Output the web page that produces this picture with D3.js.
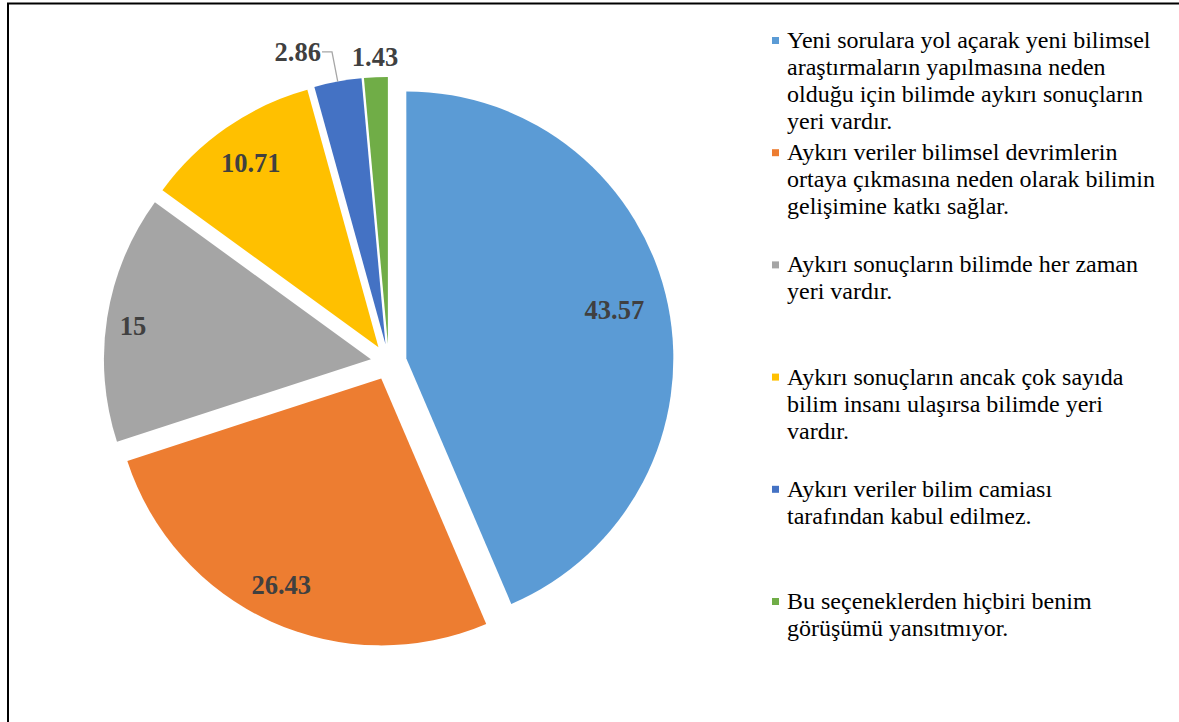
<!DOCTYPE html>
<html>
<head>
<meta charset="utf-8">
<script src="https://cdn.jsdelivr.net/npm/d3@7"></script>
<style>
  html, body { margin: 0; padding: 0; background: #fff; }
  svg { display: block; }
</style>
</head>
<body>
<svg id="chart" width="1179" height="722"></svg>
<script>
// Response categories (line breaks mark where each legend entry wraps)
const categories = [
  "Yeni sorulara yol açarak yeni bilimsel\naraştırmaların yapılmasına neden\nolduğu için bilimde aykırı sonuçların\nyeri vardır.",
  "Aykırı veriler bilimsel devrimlerin\nortaya çıkmasına neden olarak bilimin\ngelişimine katkı sağlar.",
  "Aykırı sonuçların bilimde her zaman\nyeri vardır.",
  "Aykırı sonuçların ancak çok sayıda\nbilim insanı ulaşırsa bilimde yeri\nvardır.",
  "Aykırı veriler bilim camiası\ntarafından kabul edilmez.",
  "Bu seçeneklerden hiçbiri benim\ngörüşümü yansıtmıyor."
];
// Percentage of responses per category
const values = [43.57, 26.43, 15, 10.71, 2.86, 1.43];
// Slice colours
const colors = ["#5B9BD5", "#ED7D31", "#A5A5A5", "#FFC000", "#4472C4", "#70AD47"];

// Data-label placement: radial factor and angular shift (degrees) per slice
const labelRadius = [0.8, 0.86, 0.9, 0.84, 1.143, 1.076];
const labelShift = [-1.5, 1.4, -1, 0, -6.4, 0];
const leaderLine = [false, false, false, false, true, false];

const svg = d3.select("#chart");

// Frame
svg.append("rect")
  .attr("x", 8).attr("y", 3.5)
  .attr("width", 1400).attr("height", 1000)
  .attr("fill", "none").attr("stroke", "#000").attr("stroke-width", 2);

const cx = 388.7, cy = 362, radius = 267, explode = 18;

const pie = d3.pie().sort(null).value(d => d)(values);
const arc = d3.arc().innerRadius(0).outerRadius(radius);

const dir = a => [Math.sin(a), -Math.cos(a)];

const slices = svg.append("g").attr("transform", `translate(${cx},${cy})`);

slices.selectAll("path")
  .data(pie)
  .join("path")
  .attr("transform", d => {
    const m = (d.startAngle + d.endAngle) / 2;
    const [ux, uy] = dir(m);
    return `translate(${ux * explode},${uy * explode})`;
  })
  .attr("d", arc)
  .attr("fill", (d, i) => colors[i]);

// Data labels
const labelFont = "'Liberation Serif', 'Times New Roman', serif";
pie.forEach((d, i) => {
  const m = (d.startAngle + d.endAngle) / 2;
  const [ux, uy] = dir(m);
  const ox = ux * explode, oy = uy * explode;
  const la = m + labelShift[i] * Math.PI / 180;
  const [lx, ly] = dir(la);
  const px = ox + lx * radius * labelRadius[i];
  const py = oy + ly * radius * labelRadius[i];
  const t = slices.append("text")
    .attr("x", px).attr("y", py)
    .attr("dy", "0.34em")
    .attr("text-anchor", "middle")
    .attr("font-family", labelFont)
    .attr("font-weight", "bold")
    .attr("font-size", 26.5)
    .attr("fill", "#404040")
    .text(String(values[i]));
  if (leaderLine[i]) {
    const w = t.node().getComputedTextLength();
    const sx = px + w / 2 + 1;
    const ex = ox + ux * radius, ey = oy + uy * radius;
    slices.append("path")
      .attr("d", `M${sx},${py}H${sx + 10}L${ex},${ey}`)
      .attr("fill", "none")
      .attr("stroke", "#A6A6A6")
      .attr("stroke-width", 1.3);
  }
});

// Legend
const legend = svg.append("g");
const legendTop = 48, entryStep = 112.2, lineStep = 27;
categories.forEach((c, i) => {
  const y0 = legendTop + i * entryStep;
  legend.append("rect")
    .attr("x", 772).attr("y", y0 - 11)
    .attr("width", 7).attr("height", 7)
    .attr("fill", colors[i]);
  const t = legend.append("text")
    .attr("x", 787).attr("y", y0)
    .attr("font-family", labelFont)
    .attr("font-size", 24)
    .attr("fill", "#000");
  c.split("\n").forEach((line, j) => {
    t.append("tspan").attr("x", 787).attr("y", y0 + j * lineStep).text(line);
  });
});
</script>
</body>
</html>
